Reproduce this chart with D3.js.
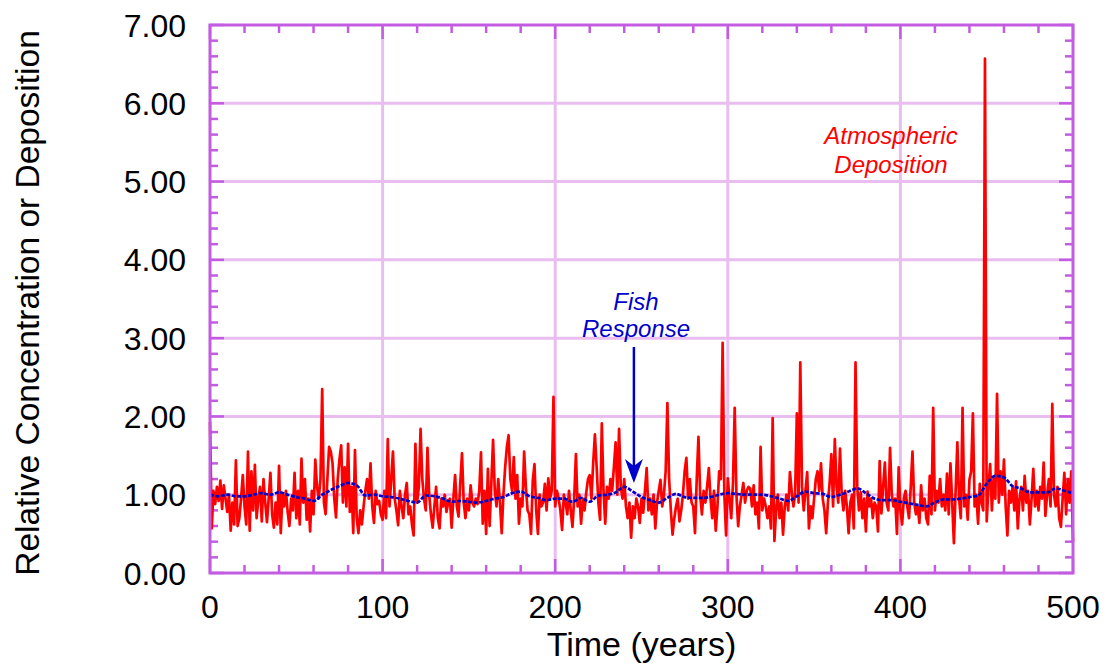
<!DOCTYPE html>
<html>
<head>
<meta charset="utf-8">
<script src="https://cdn.jsdelivr.net/npm/d3@7"></script>
<style>
  body { margin: 0; background: #fff; }
  svg { display: block; font-family: "Liberation Sans", Arial, sans-serif; }
</style>
</head>
<body>
<div id="chartArea"></div>
<script>
// red series: atmospheric deposition, one value per year 0..500
let deposition = [
  1.93,0.57,1.05,0.88,1.10,0.92,1.18,0.82,1.12,0.95,0.78,1.00,0.54,0.90,0.62,1.44,0.60,0.70,0.95,1.25,
  0.85,0.62,1.55,0.54,1.30,0.80,1.38,0.70,0.95,1.10,0.66,1.20,0.90,0.65,0.95,1.28,0.75,0.58,0.90,0.62,
  1.37,0.51,1.02,0.85,1.05,0.78,0.60,0.95,0.80,1.28,0.70,1.05,0.62,1.46,0.90,1.20,0.68,0.95,0.53,1.05,
  0.75,1.45,1.10,0.95,1.20,2.35,0.90,0.75,1.20,1.61,1.55,1.40,0.95,0.71,1.20,1.45,1.63,0.90,1.35,0.85,
  1.65,0.78,1.10,0.51,1.57,0.70,0.51,0.80,0.62,0.85,1.05,1.20,0.95,1.40,0.85,0.64,1.05,0.88,0.92,0.75,
  0.68,1.05,0.70,1.71,0.85,1.20,1.55,0.95,0.80,0.61,1.05,0.85,0.70,1.00,1.15,0.75,0.85,0.62,0.48,1.65,
  0.90,1.10,1.84,1.20,0.95,0.80,1.60,1.00,0.75,0.58,0.85,1.10,0.70,0.57,0.95,0.85,1.00,0.78,0.90,0.95,
  0.58,0.95,1.25,0.85,0.72,1.15,1.53,0.90,0.70,0.95,0.80,1.12,0.90,0.85,0.95,0.88,1.05,1.54,0.63,1.05,
  0.50,1.33,0.60,1.15,1.70,1.05,0.85,1.20,0.90,0.51,1.00,1.35,1.61,1.76,1.20,1.05,1.48,0.95,1.25,0.63,
  0.95,0.85,1.55,1.10,0.80,0.75,0.50,1.18,1.39,0.80,0.50,1.00,0.85,0.90,1.14,0.80,1.21,0.95,1.05,2.25,
  0.85,1.05,0.95,0.80,0.55,1.00,0.90,0.75,1.05,0.80,0.59,0.95,1.52,0.85,1.00,0.63,0.95,0.80,1.03,1.20,
  1.25,0.95,1.40,1.77,1.36,0.90,0.68,1.91,1.05,0.63,1.10,0.95,1.20,1.05,1.35,1.67,1.00,1.84,1.10,0.95,
  1.20,0.85,0.70,0.90,0.45,0.85,0.70,0.95,0.85,0.64,0.95,0.77,1.05,1.34,0.80,0.95,0.75,1.00,0.57,0.90,
  1.05,1.19,0.85,1.00,1.30,2.17,1.20,0.80,0.49,0.70,0.85,0.95,0.66,0.80,1.00,1.30,1.47,0.95,1.20,0.90,
  0.85,0.51,1.20,1.74,1.00,0.75,1.05,0.90,1.10,1.34,0.95,0.70,1.05,0.54,0.85,1.30,1.20,2.94,1.00,0.48,
  1.21,0.95,0.70,1.15,2.11,1.00,0.60,0.85,1.00,1.15,0.90,1.05,1.10,1.08,0.85,1.12,0.75,0.90,0.57,1.61,
  0.80,0.95,0.85,0.70,0.85,0.57,1.98,0.41,0.80,1.00,0.70,0.90,0.49,0.85,1.00,0.80,1.29,1.05,0.85,1.00,
  2.04,0.90,2.69,1.10,0.80,1.05,1.29,0.57,0.85,0.70,0.95,1.20,1.30,1.05,1.40,0.95,0.80,0.51,0.90,1.15,
  1.52,0.85,1.71,1.10,0.90,1.59,1.00,0.80,1.05,0.85,0.51,0.90,1.00,0.57,2.69,1.10,0.80,1.03,0.70,0.95,
  0.53,1.04,0.85,0.95,0.70,0.90,0.85,0.53,1.43,0.76,1.10,1.41,0.90,0.80,1.60,1.00,0.85,0.95,0.50,1.35,
  0.80,0.62,0.95,1.05,0.85,0.70,1.10,1.55,0.90,0.75,0.85,0.64,1.12,0.80,0.95,0.70,0.62,1.24,0.75,2.11,
  0.80,1.05,0.90,1.20,0.85,1.00,0.80,1.27,0.75,1.40,0.90,0.38,1.05,1.67,0.95,0.70,2.11,0.85,1.00,0.68,
  1.19,1.30,2.04,0.85,1.00,0.63,1.14,0.90,0.80,6.57,0.66,1.10,1.39,0.80,1.20,0.95,2.29,0.90,1.30,1.00,
  1.45,0.85,0.48,1.05,0.90,1.10,0.80,1.17,0.57,0.95,1.10,0.80,1.24,0.90,1.05,0.62,0.95,1.33,0.85,1.05,
  0.80,1.10,0.95,1.41,0.73,1.00,1.20,0.85,2.16,1.00,0.85,1.10,0.70,0.59,0.95,1.28,0.75,1.20,0.90,1.30,
  0.40
];

// blue series: fish response, read every 5 years
let responseYears = d3.range(0, 501, 5);
let response = [
  1.00,0.98,1.00,0.98,0.98,1.00,1.02,1.00,1.03,1.00,0.97,0.95,0.92,1.00,1.06,1.11,1.15,1.12,0.99,1.00,
  0.98,0.97,0.95,0.92,0.90,0.99,0.98,0.95,0.91,0.92,0.91,0.90,0.92,0.95,0.97,1.02,1.04,0.98,0.96,0.93,
  0.95,0.95,0.91,0.96,0.91,0.99,1.00,1.03,1.10,1.04,0.97,0.93,0.90,0.96,1.01,0.97,0.96,0.96,0.97,1.00,
  1.02,1.01,1.00,1.00,1.00,0.98,0.95,0.92,0.98,1.04,1.02,1.01,0.97,1.00,1.04,1.08,1.02,0.95,0.93,0.93,
  0.91,0.89,0.87,0.85,0.90,0.94,0.94,0.95,0.97,0.99,1.14,1.24,1.22,1.11,1.08,1.03,1.03,1.03,1.08,1.05,
  1.02
];

let xTicks = [0, 100, 200, 300, 400, 500];
let yTicks = [0, 1, 2, 3, 4, 5, 6, 7];

let width = 1107, height = 671;
let margin = { top: 25, right: 34, bottom: 98, left: 210 };
let frameColor = '#c25ce0';
let gridColor = '#eabdf0';

let svg = d3.select('#chartArea').append('svg')
   .attr('width', width)
   .attr('height', height);

let x = d3.scaleLinear().domain([0, 500]).range([margin.left, width - margin.right]);
let y = d3.scaleLinear().domain([0, 7]).range([height - margin.bottom, margin.top]);

// grid
svg.append('g').selectAll('line').data(xTicks.slice(1, -1))
   .enter().append('line')
   .attr('x1', d => x(d)).attr('x2', d => x(d))
   .attr('y1', y(7)).attr('y2', y(0))
   .attr('stroke', gridColor).attr('stroke-width', 3);
svg.append('g').selectAll('line').data(yTicks.slice(1, -1))
   .enter().append('line')
   .attr('x1', x(0)).attr('x2', x(500))
   .attr('y1', d => y(d)).attr('y2', d => y(d))
   .attr('stroke', gridColor).attr('stroke-width', 3);

// ticks on all four sides, pointing inward
let xMinor = d3.range(0, 501, 20);
let yMinor = d3.range(0, 7.01, 0.2);
let ticks = svg.append('g').attr('stroke', frameColor).attr('stroke-width', 2.5);
xMinor.forEach(function (d) {
   let len = (d % 100 === 0) ? 14 : 8;
   ticks.append('line').attr('x1', x(d)).attr('x2', x(d)).attr('y1', y(0)).attr('y2', y(0) - len);
   ticks.append('line').attr('x1', x(d)).attr('x2', x(d)).attr('y1', y(7)).attr('y2', y(7) + len);
});
yMinor.forEach(function (d) {
   let len = (Math.abs(d - Math.round(d)) < 1e-6) ? 14 : 8;
   ticks.append('line').attr('x1', x(0)).attr('x2', x(0) + len).attr('y1', y(d)).attr('y2', y(d));
   ticks.append('line').attr('x1', x(500)).attr('x2', x(500) - len).attr('y1', y(d)).attr('y2', y(d));
});

// lines
let redLine = d3.line().x((d, i) => x(i)).y(d => y(d));
svg.append('path').datum(deposition)
   .attr('d', redLine)
   .attr('fill', 'none').attr('stroke', '#ff0000').attr('stroke-width', 2.7)
   .attr('stroke-linejoin', 'round');

let blueLine = d3.line().x((d, i) => x(responseYears[i])).y(d => y(d)).curve(d3.curveMonotoneX);
svg.append('path').datum(response)
   .attr('d', blueLine)
   .attr('fill', 'none').attr('stroke', '#0000cc').attr('stroke-width', 2.7)
   .attr('stroke-dasharray', '4,1.5');

// frame
svg.append('rect')
   .attr('x', x(0)).attr('y', y(7))
   .attr('width', x(500) - x(0)).attr('height', y(0) - y(7))
   .attr('fill', 'none').attr('stroke', frameColor).attr('stroke-width', 3);

// tick labels
svg.append('g').selectAll('text').data(yTicks)
   .enter().append('text')
   .attr('x', x(0) - 24).attr('y', d => y(d))
   .attr('dy', '0.36em').attr('text-anchor', 'end')
   .attr('font-size', 32).text(d => d3.format('.2f')(d));
svg.append('g').selectAll('text').data(xTicks)
   .enter().append('text')
   .attr('x', d => x(d)).attr('y', 618)
   .attr('text-anchor', 'middle')
   .attr('font-size', 32).text(d => d);

// axis titles
svg.append('text')
   .attr('x', (x(0) + x(500)) / 2).attr('y', 656)
   .attr('text-anchor', 'middle').attr('font-size', 34)
   .text('Time (years)');
svg.append('text')
   .attr('transform', 'translate(39,' + 303 + ') rotate(-90)')
   .attr('text-anchor', 'middle').attr('font-size', 33.5)
   .text('Relative Concentration or Deposition');

// annotations
let atm = svg.append('text').attr('fill', '#ff0000').attr('font-style', 'italic')
   .attr('font-size', 24).attr('text-anchor', 'middle');
atm.append('tspan').attr('x', 891).attr('y', 144).text('Atmospheric');
atm.append('tspan').attr('x', 891).attr('y', 173).text('Deposition');

let fish = svg.append('text').attr('fill', '#0000cc').attr('font-style', 'italic')
   .attr('font-size', 24).attr('text-anchor', 'middle');
fish.append('tspan').attr('x', 636).attr('y', 310).text('Fish');
fish.append('tspan').attr('x', 636).attr('y', 337).text('Response');

// arrow pointing at the response peak
let ax = x(245.6);
svg.append('line')
   .attr('x1', ax).attr('x2', ax).attr('y1', 347).attr('y2', 470)
   .attr('stroke', '#0000cc').attr('stroke-width', 2.5);
svg.append('path')
   .attr('d', `M${ax - 9},${459} L${ax},${483} L${ax + 9},${459} L${ax},${466} Z`)
   .attr('fill', '#0000cc');
</script>
</body>
</html>
